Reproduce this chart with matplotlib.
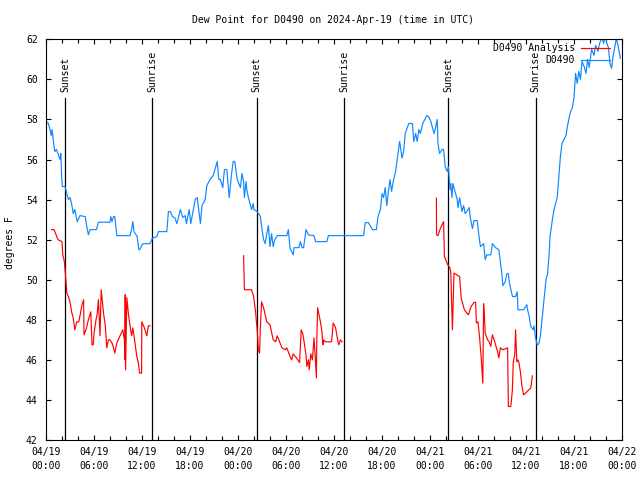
import numpy as np
import pandas as pd
import matplotlib
matplotlib.use('Agg')
import matplotlib.pyplot as plt
import matplotlib.dates as mdates

plt.rcParams['font.family'] = 'DejaVu Sans Mono'
plt.rcParams['font.size'] = 7

start = pd.Timestamp('2024-04-19 00:00')

# observed dew point (D0490), hours after 04/19 00:00 UTC
obs_hours = [0.0, 0.29, 0.5, 0.65, 0.75, 0.9, 1.1, 1.3, 1.5, 1.75, 1.85, 1.96, 2.04, 2.38, 2.6, 2.8, 3.0,
             3.2, 3.4, 3.6, 3.9, 4.25, 4.9, 5.1, 5.3, 5.5, 6.3, 6.55, 8.0, 8.1, 8.25, 8.45, 8.6, 8.85,
             10.5, 10.7, 10.85, 11.0, 11.4, 11.6, 11.7, 12.1, 13.0, 13.3, 13.85, 14.05, 15.1, 15.3,
             15.55, 15.8, 16.1, 16.35, 16.8, 17.1, 17.4, 17.55, 17.9, 18.1, 18.65, 18.9, 19.3, 19.5,
             19.9, 20.1, 20.5, 20.9, 21.4, 21.6, 21.8, 22.1, 22.3, 22.6, 22.9, 23.2, 23.4, 23.6, 23.9,
             24.3, 24.5, 24.7, 24.8, 25.0, 25.1, 25.3, 25.5, 25.7, 25.9, 26.0, 26.4, 26.8, 27.0, 27.2,
             27.4, 27.6, 27.8, 28.0, 28.2, 28.4, 28.6, 28.9, 30.1, 30.3, 30.5, 30.9, 31.0, 31.6, 31.8,
             32.0, 32.2, 32.5, 32.8, 33.5, 33.7, 35.1, 35.3, 39.7, 39.9, 40.3, 40.8, 41.3, 41.5, 41.8,
             42.0, 42.2, 42.4, 42.6, 42.8, 43.0, 43.2, 43.4, 43.7, 43.9, 44.2, 44.3, 44.5, 44.7, 44.9,
             45.35, 45.8, 45.97, 46.2, 46.4, 46.6, 46.8, 47.1, 47.6, 47.9, 48.1, 48.5, 48.7, 48.9,
             49.0, 49.2, 49.5, 49.7, 49.9, 50.15, 50.3, 50.5, 50.6, 50.75, 50.85, 51.2, 51.4, 51.5,
             51.7, 52.0, 52.2, 52.4, 52.6, 52.9, 53.0, 53.3, 53.5, 53.9, 54.1, 54.3, 54.7, 54.9, 55.1,
             55.6, 55.8, 56.2, 56.6, 57.0, 57.1, 57.4, 57.6, 57.8, 57.9, 58.3, 58.7, 58.9, 59.0, 59.7,
             60.1, 60.2, 60.4, 60.6, 60.9, 61.0, 61.2, 61.4, 61.6, 61.8, 62.0, 62.2, 62.5, 62.7, 62.9,
             63.0, 63.3, 63.5, 63.9, 64.1, 64.3, 64.5, 65.0, 65.2, 65.5, 65.8, 66.0, 66.2, 66.4, 66.6,
             66.8, 67.0, 67.3, 67.5, 67.7, 67.9, 68.2, 68.5, 68.7, 69.0, 69.2, 69.5, 69.7, 69.9, 70.1,
             70.3, 70.5, 70.7, 70.9, 71.1, 71.3, 71.5, 71.8]
obs_dewpt = [57.9, 57.8, 57.5, 57.2, 57.5, 57.0, 56.4, 56.5, 56.3, 56.0, 56.3, 55.15, 54.65, 54.65, 54.3,
             54.0, 54.1, 53.8, 53.3, 53.5, 52.9, 53.2, 53.15, 52.65, 52.24, 52.5, 52.5, 52.87, 52.87,
             53.15, 52.9, 53.15, 53.15, 52.2, 52.2, 52.5, 52.9, 52.4, 52.16, 51.5, 51.5, 51.8, 51.8,
             52.07, 52.15, 52.4, 52.4, 53.4, 53.4, 53.15, 53.1, 52.8, 53.5, 53.1, 53.2, 52.8, 53.5,
             52.8, 54.0, 54.1, 52.8, 53.7, 54.0, 54.7, 55.0, 55.2, 55.9, 55.0, 55.0, 54.6, 55.5, 55.5,
             54.1, 55.3, 55.9, 55.9, 55.0, 54.6, 55.3, 54.9, 54.1, 54.9, 54.5, 54.1, 53.8, 53.5, 53.8,
             53.5, 53.4, 53.15, 52.5, 52.0, 51.8, 52.3, 52.7, 51.65, 52.3, 51.65, 52.0, 52.2, 52.2,
             52.5, 51.57, 51.24, 51.6, 51.6, 51.9, 51.6, 51.6, 52.5, 52.24, 52.2, 51.9, 51.9, 52.2,
             52.2, 52.85, 52.85, 52.5, 52.5, 53.15, 53.5, 54.3, 54.1, 54.6, 53.7, 54.4, 55.0, 54.4,
             54.9, 55.4, 56.0, 56.9, 56.65, 56.07, 56.4, 57.3, 57.8, 57.8, 56.9, 57.3, 56.9, 57.5,
             57.3, 57.8, 58.2, 58.1, 57.9, 57.3, 57.6, 58.0, 56.8, 56.3, 56.5, 56.5, 55.65, 55.4,
             55.65, 54.5, 54.8, 54.1, 54.8, 54.3, 54.0, 53.6, 54.1, 53.4, 53.7, 53.3, 53.4, 53.6,
             53.2, 52.55, 52.95, 52.95, 52.24, 51.65, 51.8, 51.0, 51.24, 51.24, 51.8, 51.6, 51.5,
             50.25, 49.7, 49.9, 50.3, 50.3, 49.9, 49.16, 49.16, 49.4, 48.5, 48.5, 48.75, 48.5, 48.17,
             47.66, 47.5, 47.7, 47.09, 46.75, 46.8, 47.2, 48.0, 48.8, 50.0, 50.3, 51.33, 52.15, 53.0,
             53.5, 54.1, 55.15, 56.15, 56.8, 57.2, 57.7, 58.3, 58.6, 59.1, 60.3, 59.8, 60.4, 60.0,
             60.9, 60.6, 60.3, 61.0, 60.6, 61.5, 61.2, 61.7, 61.4, 61.8, 62.1, 61.8, 62.2, 61.8,
             61.6, 60.8, 60.55, 61.2, 61.6, 62.05, 61.7, 61.05]

# analysis dew point (D0490 Analysis), three nightly segments
ana1_hours = [0.7, 1.0, 1.5, 2.0, 2.1, 2.3, 2.4, 2.5, 2.6, 2.8, 3.0, 3.2, 3.4, 3.6, 3.85, 4.1, 4.3, 4.45,
              4.7, 4.75, 5.0, 5.3, 5.6, 5.75, 5.9, 6.0, 6.25, 6.4, 6.55, 6.75, 6.9, 7.2, 7.4, 7.6, 7.8,
              8.0, 8.3, 8.6, 8.85, 9.25, 9.6, 9.8, 9.85, 9.9, 9.95, 10.1, 10.3, 10.5, 10.7, 10.85, 11.0,
              11.35, 11.55, 11.7, 11.95, 11.97, 12.3, 12.6, 12.8, 13.0]
ana1_dewpt = [52.5, 52.5, 52.0, 51.9, 51.24, 50.9, 50.4, 49.9, 49.33, 49.16, 48.9, 48.4, 48.1, 47.5,
              47.9, 47.9, 48.3, 48.66, 49.0, 47.25, 47.5, 48.0, 48.4, 46.75, 46.75, 47.3, 48.0, 48.3,
              49.0, 47.2, 49.5, 48.3, 47.75, 46.6, 47.0, 47.0, 46.8, 46.34, 46.84, 47.2, 47.5, 47.0,
              46.0, 49.25, 45.5, 49.1, 48.3, 47.7, 47.2, 47.6, 47.2, 46.17, 45.84, 45.34, 45.34, 47.9,
              47.6, 47.2, 47.7, 47.7]
ana2_hours = [24.7, 24.75, 24.8, 25.7, 25.95, 26.2, 26.3, 26.4, 26.55, 26.7, 26.8, 26.95, 27.2, 27.6,
              28.0, 28.4, 28.7, 28.9, 29.1, 29.5, 29.9, 30.1, 30.5, 30.7, 30.9, 31.3, 31.7, 31.9, 32.1,
              32.3, 32.5, 32.6, 32.8, 32.9, 33.1, 33.3, 33.5, 33.65, 33.8, 33.85, 33.95, 34.1, 34.3,
              34.5, 34.6, 34.7, 34.9, 35.7, 35.9, 36.2, 36.5, 36.6, 36.8, 37.0]
ana2_dewpt = [51.2, 50.3, 49.5, 49.5, 49.16, 48.4, 47.9, 47.5, 46.5, 46.34, 47.67, 48.9, 48.6, 47.9,
              47.75, 47.0, 46.9, 47.2, 47.0, 46.6, 46.5, 46.6, 46.17, 46.0, 46.3, 46.1, 45.87, 47.5,
              47.3, 46.8, 46.25, 45.67, 46.0, 45.5, 46.3, 46.0, 47.1, 46.17, 45.1, 47.0, 48.6, 48.3,
              47.9, 47.4, 46.75, 47.0, 46.9, 46.9, 47.84, 47.6, 46.9, 46.75, 47.0, 46.9]
ana3_hours = [48.8, 48.82, 49.0, 49.3, 49.7, 49.8, 50.15, 50.5, 50.6, 50.7, 50.8, 51.0, 51.7, 51.9, 52.1,
              52.3, 52.6, 52.8, 53.0, 53.2, 53.5, 53.7, 53.8, 54.0, 54.2, 54.4, 54.6, 54.7, 54.8, 54.9,
              55.2, 55.4, 55.6, 55.8, 56.1, 56.3, 56.4, 56.6, 56.8, 57.1, 57.7, 57.8, 58.1, 58.3, 58.4,
              58.6, 58.7, 58.85, 59.0, 59.1, 59.3, 59.5, 59.7, 60.1, 60.6, 60.7, 60.8]
ana3_dewpt = [54.07, 52.24, 52.2, 52.57, 52.9, 51.16, 50.8, 50.58, 50.33, 49.0, 47.5, 50.33, 50.16,
              49.08, 48.8, 48.5, 48.34, 48.25, 48.5, 48.7, 48.87, 48.87, 47.84, 47.9, 47.1, 46.1, 44.84,
              48.8, 48.2, 47.33, 47.0, 46.9, 46.67, 47.25, 46.9, 46.6, 46.5, 46.1, 46.6, 46.5, 46.6,
              43.67, 43.67, 44.5, 45.84, 46.3, 47.5, 45.9, 46.0, 45.9, 45.4, 44.67, 44.25, 44.4, 44.6,
              44.9, 45.2]

sunset_hours = [2.42, 26.35, 50.3]
sunrise_hours = [13.3, 37.3, 61.2]

t0 = mdates.date2num(start)


def to_num(hours):
    # hours after start -> matplotlib date numbers (NaN stays NaN)
    return t0 + np.asarray(hours, dtype=float) / 24.0


ana_hours = ana1_hours + [np.nan] + ana2_hours + [np.nan] + ana3_hours
ana_dewpt = ana1_dewpt + [np.nan] + ana2_dewpt + [np.nan] + ana3_dewpt

fig = plt.figure(figsize=(6.4, 4.8), dpi=100)
ax = fig.add_axes([46/640, 1-440/480, 576/640, 400.7/480])

ymin, ymax = 42, 62
line_top = 59.07
for name, hrs in [('Sunset', sunset_hours), ('Sunrise', sunrise_hours)]:
    for t in to_num(hrs):
        ax.plot([t, t], [ymin, line_top], color='black', lw=0.9, zorder=1)
        ax.text(t, 59.37, name, rotation=90, ha='center', va='bottom')

ax.plot(to_num(ana_hours), ana_dewpt, color='red', lw=0.85, label='D0490 Analysis', zorder=3)
ax.plot(to_num(obs_hours), obs_dewpt, color='#0f87ff', lw=0.85, label='D0490', zorder=2)

ax.xaxis_date()
ax.set_xlim(t0, t0 + 3.0)
ax.set_ylim(ymin, ymax)
ax.set_yticks(range(42, 63, 2))
ax.xaxis.set_major_locator(mdates.HourLocator(byhour=range(0, 24, 6)))
ax.xaxis.set_minor_locator(mdates.HourLocator(interval=2))
ax.xaxis.set_major_formatter(mdates.DateFormatter('%m/%d\n%H:%M'))
ax.tick_params(which='both', direction='in', top=True, right=True, width=0.8)
ax.tick_params(which='major', length=3.5)
ax.tick_params(which='minor', length=3)
ax.tick_params(axis='y', pad=6)
ax.tick_params(axis='x', pad=5)
for lbl in ax.get_xticklabels():
    lbl.set_linespacing(1.5)
for s in ax.spines.values():
    s.set_linewidth(0.8)

ax.legend(loc='upper right', bbox_to_anchor=(610/640, 1-43/480), bbox_transform=fig.transFigure,
          frameon=False, markerfirst=False, handlelength=3.0, handletextpad=0.6,
          labelspacing=0.25, borderpad=0, borderaxespad=0)

fig.text(333/640, 1-20/480, 'Dew Point for D0490 on 2024-Apr-19 (time in UTC)', ha='center', va='center')
fig.text(10/640, 1-243/480, 'degrees F', rotation=90, ha='center', va='center')

plt.savefig('out.png', dpi=100)
